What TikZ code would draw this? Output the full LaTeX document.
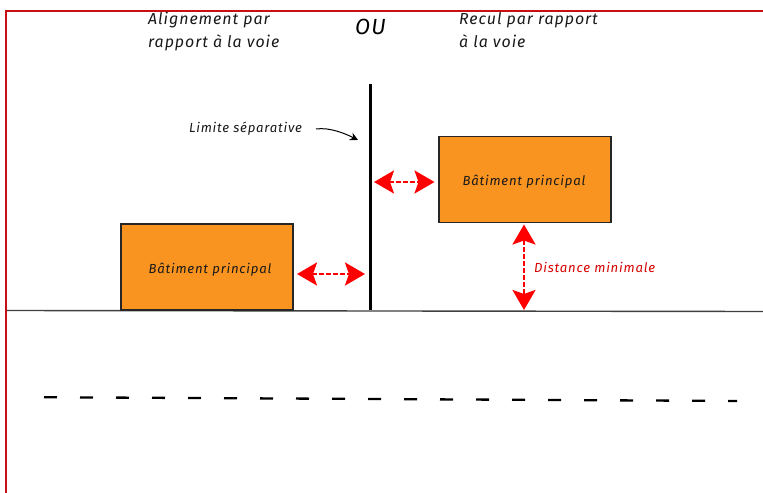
\documentclass[tikz,border=0pt]{standalone}
\usepackage{fontspec}
\setmainfont{Fira Sans}[ItalicFont=* Italic,LetterSpace=6]
\usetikzlibrary{arrows.meta}
\definecolor{framered}{RGB}{200,16,20}
\definecolor{boxorange}{RGB}{250,148,32}
\definecolor{arrowred}{RGB}{255,0,0}
\tikzset{
  handtext/.style={inner sep=0pt,font=\fontsize{16}{21}\selectfont\itshape,align=left,text=black!90},
  boxlabel/.style={inner sep=0pt,font=\fontsize{13.2}{15}\selectfont\itshape,text=black!90},
  building/.style={draw=black!85,line width=1.2bp,fill=boxorange,minimum width=172bp,minimum height=86bp,inner sep=0pt},
  gap/.style={draw=arrowred,line width=2.6bp,dash pattern=on 5bp off 2bp,
    {Stealth[length=20bp,width=23bp,inset=4bp,fill=arrowred]}-{Stealth[length=20bp,width=23bp,inset=4bp,fill=arrowred]}},
}
\begin{document}
\begin{tikzpicture}[x=1bp,y=-1bp]
\useasboundingbox (0,0) rectangle (763,493);
\fill[white] (0,0) rectangle (763,493);
% frame
\coordinate (fb) at (6,493);
\coordinate (fc) at (6,11);
\coordinate (fe) at (763,11);
\draw[framered,line width=2bp] (fb) -- (fc) -- (fe);
% ground and road axis
\coordinate (g1) at (7,310.5);
\coordinate (g2) at (763,311.5);
\draw[black!75,line width=1.4bp] (g1) -- (g2);
\coordinate (r1) at (44,397.2);
\coordinate (r2) at (737,401);
\draw[black,line width=2.3bp,dash pattern=on 13bp off 23bp] (r1) -- (r2);
% separation line
\coordinate (s1) at (370,84);
\coordinate (s2) at (370,310);
\draw[black,line width=3bp] (s1) -- (s2);
% buildings
\node[building] (b1) at (207,267) {};
\node[boxlabel] (b1t) at (210,270) {Bâtiment principal};
\node[building] (b2) at (525,179.5) {};
\node[boxlabel] (b2t) at (524,181.5) {Bâtiment principal};
% titles
\node[handtext,anchor=north west] (t1) at (148,12) {Alignement par\\[2pt]rapport à la voie};
\node[handtext,anchor=north west] (t2) at (459,12) {Recul par rapport\\[2pt]à la voie};
\node[inner sep=0pt,font=\fontsize{22}{24}\selectfont\itshape] (ou) at (370.5,27) {OU};
\node[boxlabel] (lim) at (245.5,129) {Limite séparative};
\node[boxlabel,text=arrowred!85!black,anchor=west] (dist) at (534,267) {Distance minimale};
% helper points
\coordinate (ls) at (316,129);
\coordinate (la) at (358,140);
\coordinate (a1) at (297,274);
\coordinate (a2) at (365,274);
\coordinate (a3) at (374,182);
\coordinate (a4) at (434.5,182);
\coordinate (a5) at (524,224.5);
\coordinate (a6) at (524,310);
% connectors
\draw[black,line width=1bp,-{Stealth[length=8bp,width=8bp]}] (ls) .. controls +(14,-2) and +(-12,-6) .. (la);
\draw[gap] (a1) -- (a2);
\draw[gap] (a3) -- (a4);
\draw[gap] (a5) -- (a6);
\end{tikzpicture}
\end{document}
